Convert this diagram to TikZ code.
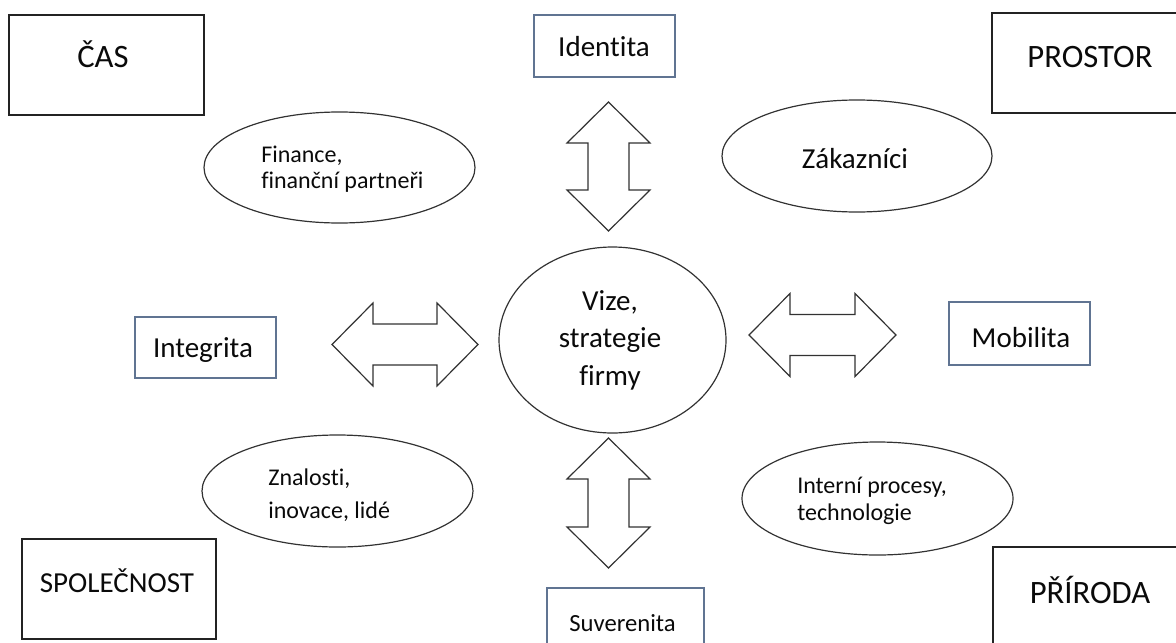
\documentclass[tikz,border=0pt]{standalone}
\usepackage{fontspec}
\setmainfont{Carlito}[Ligatures={NoCommon}]
\usetikzlibrary{shapes.geometric}
\definecolor{txt}{RGB}{10,10,10}
\definecolor{boxline}{RGB}{35,35,35}
\definecolor{smallline}{RGB}{96,116,146}
\definecolor{shapeline}{RGB}{50,50,50}
\tikzset{
  bigbox/.style={draw=boxline, line width=1.3pt, inner sep=0pt, minimum width=146.25pt, minimum height=75pt},
  smallbox/.style={draw=smallline, line width=1pt, inner sep=0pt, minimum width=105.75pt, minimum height=46.5pt},
  oval/.style={ellipse, draw=shapeline, line width=0.9pt, inner sep=0pt},
  hugetxt/.style={text=txt, inner sep=0pt, font=\fontsize{24.5pt}{29pt}\selectfont},
  bigtxt/.style={text=txt, inner sep=0pt, font=\fontsize{21.75pt}{26pt}\selectfont},
  smalltxt/.style={text=txt, inner sep=0pt, font=\fontsize{18pt}{22pt}\selectfont},
  arrowline/.style={draw=shapeline, line width=0.9pt, line join=miter, fill=white},
  pics/dblarrow/.style={code={
    \draw[arrowline] (-#1,0) -- (-#1+41,-41.5) -- (-#1+41,-20.5) -- (#1-41,-20.5)
      -- (#1-41,-41.5) -- (#1,0) -- (#1-41,41.5) -- (#1-41,20.5)
      -- (-#1+41,20.5) -- (-#1+41,41.5) -- cycle;}}
}
\begin{document}
\begin{tikzpicture}[x=0.75pt,y=-0.75pt]
\useasboundingbox (0,0) rectangle (1176,642);
\clip (0,0) rectangle (1176,642);

% corner boxes
\node[bigbox] (cas) at (106.5,65) {};
\node[hugetxt, anchor=base] (cast) at (103,68) {ČAS};
\node[bigbox] (prostor) at (1089.5,63) {};
\node[hugetxt, anchor=base] (prostort) at (1090,68) {PROSTOR};
\node[bigbox, minimum width=145.5pt] (spol) at (119,589) {};
\node[bigtxt, anchor=base] (spolt) at (117,592) {SPOLEČNOST};
\node[bigbox] (priroda) at (1090.5,597) {};
\node[hugetxt, anchor=base] (prirodat) at (1090,603) {PŘÍRODA};

% small boxes
\node[smallbox] (identita) at (604.5,46) {};
\node[bigtxt, anchor=base] (identitat) at (604,57) {Identita};
\node[smallbox, minimum height=45.75pt] (integrita) at (205.5,347.5) {};
\node[bigtxt, anchor=base] (integritat) at (203,357) {Integrita};
\node[smallbox, minimum height=47.25pt] (mobilita) at (1019.5,333.5) {};
\node[bigtxt, anchor=base] (mobilitat) at (1021,347) {Mobilita};
\node[smallbox, minimum width=117.75pt] (suverenita) at (625.5,619) {};
\node[smalltxt, font=\fontsize{18.5pt}{22pt}\selectfont, anchor=base] (suverenitat) at (622.5,631) {Suverenita};

% ellipses
\node[oval, minimum width=203.25pt, minimum height=83.25pt] (finance) at (339.5,167.5) {};
\node[smalltxt, anchor=base west] (fin1) at (261,162) {Finance,};
\node[smalltxt, anchor=base west] (fin2) at (261,188) {finanční partneři};

\node[oval, minimum width=202.5pt, minimum height=84pt] (zakaznici) at (857,156) {};
\node[bigtxt, anchor=base] (zakt) at (855,168) {Zákazníci};

\node[oval, minimum width=170.25pt, minimum height=139.5pt] (vize) at (612.5,340) {};
\node[bigtxt, anchor=base] (vize1) at (610,310) {Vize,};
\node[bigtxt, anchor=base] (vize2) at (610,347) {strategie};
\node[bigtxt, anchor=base] (vize3) at (610,385) {firmy};

\node[oval, minimum width=203.25pt, minimum height=84pt] (znalosti) at (337.5,491) {};
\node[smalltxt, anchor=base west] (zn1) at (268,485) {Znalosti,};
\node[smalltxt, anchor=base west] (zn2) at (268,518) {inovace, lidé};

\node[oval, minimum width=203.25pt, minimum height=84.75pt] (interni) at (877.5,498.5) {};
\node[smalltxt, anchor=base west] (in1) at (797,493) {Interní procesy,};
\node[smalltxt, anchor=base west] (in2) at (797,520) {technologie};

% block double arrows
\pic[rotate=90] at (608.5,166.5) {dblarrow=64.5};
\pic[rotate=90] at (608.5,503) {dblarrow=65};
\pic at (405,344.5) {dblarrow=73};
\pic at (822.5,335) {dblarrow=73.5};
\end{tikzpicture}
\end{document}
